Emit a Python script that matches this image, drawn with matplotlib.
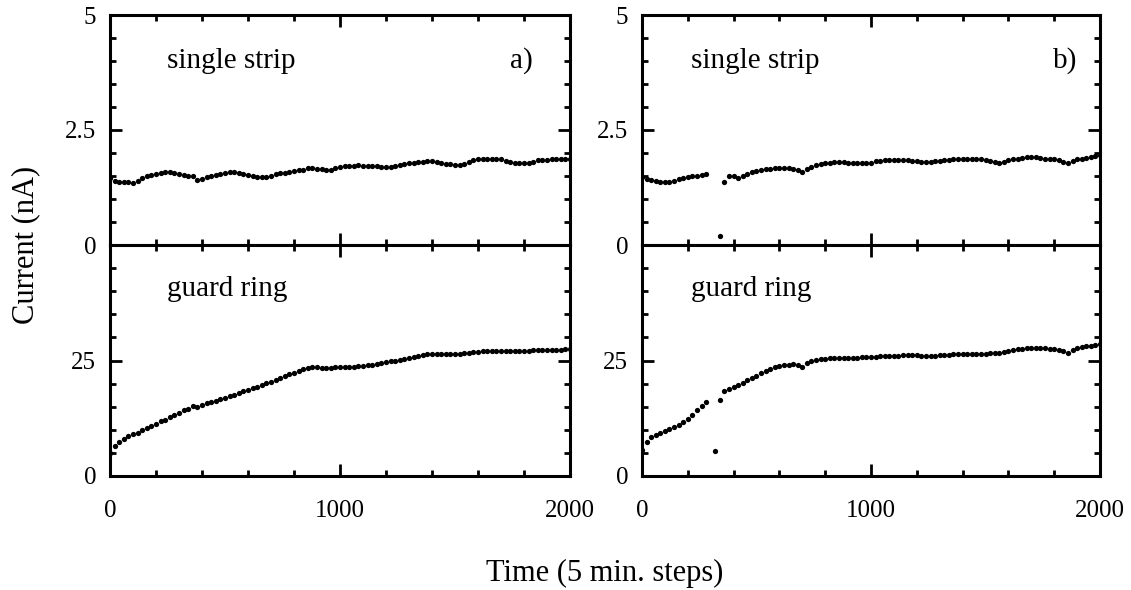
import numpy as np
import matplotlib
matplotlib.use("Agg")
import matplotlib.pyplot as plt
from matplotlib.ticker import MultipleLocator, FixedLocator, FixedFormatter

nan = np.nan
time = np.arange(0, 2001, 20)

strip_a = [1.45, 1.40, 1.38, 1.37, 1.36, 1.35, 1.40, 1.46, 1.50, 1.53,
           1.55, 1.56, 1.58, 1.59, 1.57, 1.54, 1.52, 1.51, 1.50, 1.42,
           1.44, 1.48, 1.51, 1.53, 1.55, 1.57, 1.58, 1.58, 1.56, 1.54,
           1.53, 1.50, 1.48, 1.47, 1.47, 1.50, 1.54, 1.56, 1.57, 1.58,
           1.60, 1.62, 1.64, 1.67, 1.67, 1.66, 1.65, 1.64, 1.62, 1.67,
           1.70, 1.72, 1.72, 1.72, 1.73, 1.72, 1.72, 1.71, 1.71, 1.70,
           1.69, 1.70, 1.72, 1.75, 1.77, 1.78, 1.79, 1.80, 1.81, 1.82,
           1.83, 1.81, 1.78, 1.77, 1.76, 1.75, 1.75, 1.77, 1.80, 1.84,
           1.86, 1.87, 1.88, 1.88, 1.88, 1.86, 1.83, 1.80, 1.78, 1.78,
           1.78, 1.79, 1.81, 1.84, 1.85, 1.85, 1.86, 1.87, 1.87, 1.88,
           1.88]

guard_a = [5.0, 6.4, 7.3, 8.1, 8.6, 9.0, 9.4, 9.9, 10.3, 10.8,
           11.3, 11.8, 12.2, 12.7, 13.2, 13.7, 14.2, 14.6, 15.1, 15.0,
           15.3, 15.7, 16.0, 16.3, 16.6, 16.9, 17.3, 17.6, 18.0, 18.3,
           18.6, 19.0, 19.3, 19.7, 20.1, 20.4, 20.8, 21.2, 21.6, 22.0,
           22.4, 22.7, 23.1, 23.4, 23.5, 23.5, 23.4, 23.4, 23.4, 23.5,
           23.5, 23.5, 23.6, 23.7, 23.8, 23.9, 24.0, 24.1, 24.3, 24.5,
           24.7, 24.8, 24.9, 25.1, 25.3, 25.5, 25.7, 25.9, 26.1, 26.3,
           26.4, 26.4, 26.4, 26.4, 26.5, 26.5, 26.5, 26.6, 26.7, 26.8,
           26.9, 27.0, 27.1, 27.1, 27.1, 27.1, 27.1, 27.1, 27.1, 27.1,
           27.1, 27.1, 27.2, 27.2, 27.2, 27.2, 27.3, 27.3, 27.3, 27.4,
           27.4]

strip_b = [1.47, 1.43, 1.41, 1.39, 1.37, 1.36, 1.37, 1.40, 1.43, 1.45,
           1.47, 1.49, 1.51, 1.53, 1.55, nan, nan, 0.20, 1.36, 1.50,
           1.51, 1.46, 1.50, 1.55, 1.58, 1.61, 1.63, 1.65, 1.66, 1.67,
           1.68, 1.68, 1.67, 1.66, 1.62, 1.59, 1.65, 1.70, 1.73, 1.76,
           1.78, 1.79, 1.80, 1.80, 1.80, 1.79, 1.78, 1.78, 1.78, 1.79,
           1.79, 1.82, 1.83, 1.84, 1.85, 1.85, 1.85, 1.84, 1.84, 1.83,
           1.82, 1.81, 1.80, 1.80, 1.82, 1.83, 1.84, 1.85, 1.86, 1.87,
           1.88, 1.88, 1.87, 1.86, 1.86, 1.84, 1.82, 1.81, 1.79, 1.80,
           1.84, 1.86, 1.88, 1.89, 1.91, 1.92, 1.92, 1.90, 1.88, 1.87,
           1.86, 1.84, 1.81, 1.78, 1.82, 1.86, 1.88, 1.89, 1.91, 1.94,
           1.96]

guard_b = [5.7, 7.4, 8.5, 8.9, 9.3, 9.7, 10.1, 10.6, 11.1, 11.7,
           12.4, 13.2, 14.2, 15.2, 16.1, nan, 5.4, 16.4, 18.3, 18.8,
           19.3, 19.7, 20.2, 20.7, 21.2, 21.7, 22.2, 22.7, 23.2, 23.6,
           23.8, 24.0, 24.1, 24.2, 24.0, 23.7, 24.4, 24.8, 25.1, 25.3,
           25.4, 25.5, 25.6, 25.6, 25.6, 25.6, 25.6, 25.6, 25.7, 25.7,
           25.8, 25.8, 25.9, 25.9, 26.0, 26.0, 26.0, 26.1, 26.1, 26.1,
           26.1, 26.0, 26.0, 26.0, 26.0, 26.1, 26.2, 26.2, 26.3, 26.3,
           26.4, 26.4, 26.4, 26.5, 26.5, 26.5, 26.6, 26.6, 26.7, 26.9,
           27.1, 27.2, 27.4, 27.5, 27.6, 27.7, 27.7, 27.7, 27.6, 27.5,
           27.4, 27.3, 27.0, 26.6, 27.2, 27.7, 27.9, 28.1, 28.2, 28.4,
           28.5]

x_ticks = [0, 1000, 2000]
x_ticklabels = ["0", "1000", "2000"]
strip_ticks = [0, 2.5, 5]
strip_ticklabels = ["0", "2.5", "5"]
guard_ticks = [0, 25, 50]
guard_ticklabels = ["0", "25", ""]

plt.rcParams["font.family"] = ["Liberation Serif", "DejaVu Serif"]

fig = plt.figure(figsize=(11.31, 5.90), dpi=100)
W, H = 1131, 590

def ax_at(x0, x1, y0, y1):
    return fig.add_axes([x0 / W, 1 - y1 / H, (x1 - x0) / W, (y1 - y0) / H])

panels = [
    (110, 570, strip_a, guard_a, "a)", 0.124, 0.92),
    (642, 1100, strip_b, guard_b, "b)", 0.107, 0.95),
]

for x0, x1, s_vals, g_vals, tag, tx, tagx in panels:
    ax_top = ax_at(x0, x1, 15, 245)
    ax_bot = ax_at(x0, x1, 245, 476)
    for ax, vals, lim, ticks, labels, minor in [
        (ax_top, s_vals, 5, strip_ticks, strip_ticklabels, 0.5),
        (ax_bot, g_vals, 50, guard_ticks, guard_ticklabels, 5),
    ]:
        ax.plot(time, vals, "o", color="black", markersize=3.8, markeredgewidth=0)
        ax.set_xlim(0, 2000)
        ax.set_ylim(0, lim)
        ax.xaxis.set_major_locator(FixedLocator(x_ticks))
        ax.xaxis.set_minor_locator(MultipleLocator(200))
        ax.yaxis.set_major_locator(FixedLocator(ticks))
        ax.yaxis.set_major_formatter(FixedFormatter(labels))
        ax.yaxis.set_minor_locator(MultipleLocator(minor))
        ax.tick_params(which="both", direction="in", top=True, right=True,
                       width=2.0, labelsize=18, color="black")
        ax.tick_params(which="major", length=8.5)
        ax.tick_params(which="minor", length=4.5)
        ax.tick_params(axis="y", pad=10)
        ax.tick_params(axis="x", pad=17)
        for sp in ax.spines.values():
            sp.set_linewidth(2.2)
    ax_top.set_xticklabels([])
    ax_bot.set_xticklabels(x_ticklabels)
    ax_top.text(tx, 0.80, "single strip", transform=ax_top.transAxes,
                fontsize=21, ha="left", va="center")
    ax_top.text(tagx, 0.80, tag, transform=ax_top.transAxes,
                fontsize=21, ha="right", va="center")
    ax_bot.text(tx, 0.81, "guard ring", transform=ax_bot.transAxes,
                fontsize=21, ha="left", va="center")

fig.text(26 / W, 1 - 245 / H, "Current (nA)", rotation=90, fontsize=22,
         ha="center", va="center")
fig.text(605 / W, 1 - 573 / H, "Time (5 min. steps)", fontsize=22,
         ha="center", va="center")

fig.savefig("out.png", dpi=100)
